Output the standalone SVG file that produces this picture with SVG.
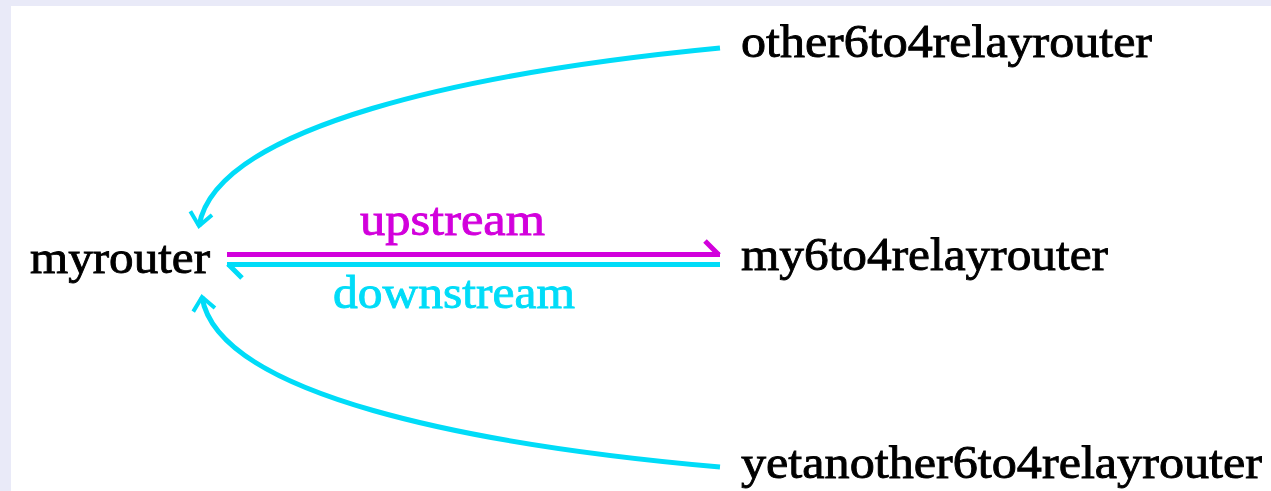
<svg xmlns="http://www.w3.org/2000/svg" width="1271" height="491" viewBox="0 0 1271 491">
  <style>
    .lbl { font-family: "Liberation Serif", "Times New Roman", serif; font-size: 47px; fill: #000; stroke: #000; stroke-width: 0.9; }
    .up { fill: #D200DC; stroke: #D200DC; }
    .down { fill: #00DCF8; stroke: #00DCF8; }
    .cyan { fill: none; stroke: #00DCF8; stroke-width: 5; stroke-linecap: butt; stroke-linejoin: miter; }
    .mag { fill: none; stroke: #D200DC; stroke-width: 5; }
  </style>
  <defs>
    <marker id="vhead" markerUnits="userSpaceOnUse" viewBox="-16 -16 20 32" refX="0" refY="0" markerWidth="20" markerHeight="32" orient="auto" overflow="visible">
      <path d="M-13,-11 L0,0 L-13,11" fill="none" stroke="#00DCF8" stroke-width="4"/>
    </marker>
  </defs>
  <rect x="0" y="0" width="1271" height="491" fill="#E9EAF8"/>
  <rect x="11" y="6" width="1260" height="485" fill="#FFFFFF"/>

  <g id="connectors">
    <path id="c-other" class="cyan" d="M720,48 C470,72 216,126 199,226" marker-end="url(#vhead)"/>
    <path id="c-yet" class="cyan" d="M720,467 C470,445 218,395 202,297" marker-end="url(#vhead)"/>
    <path id="c-up" class="mag" d="M227,254.5 L720,254.5 M705,241 L719,255"/>
    <path id="c-down" class="cyan" d="M227,264.5 L720,264.5 M228,264 L242,278"/>
    <text class="lbl up" x="360" y="235" textLength="185" lengthAdjust="spacingAndGlyphs">upstream</text>
    <text class="lbl down" x="333" y="308" textLength="242" lengthAdjust="spacingAndGlyphs">downstream</text>
  </g>

  <g id="myrouter">
    <text class="lbl" x="30" y="273" textLength="180" lengthAdjust="spacingAndGlyphs">myrouter</text>
  </g>
  <g id="other6to4relayrouter">
    <text class="lbl" x="741" y="57" textLength="411" lengthAdjust="spacingAndGlyphs">other6to4relayrouter</text>
  </g>
  <g id="my6to4relayrouter">
    <text class="lbl" x="741" y="270" textLength="367" lengthAdjust="spacingAndGlyphs">my6to4relayrouter</text>
  </g>
  <g id="yetanother6to4relayrouter">
    <text class="lbl" x="741" y="478" textLength="521" lengthAdjust="spacingAndGlyphs">yetanother6to4relayrouter</text>
  </g>
</svg>
